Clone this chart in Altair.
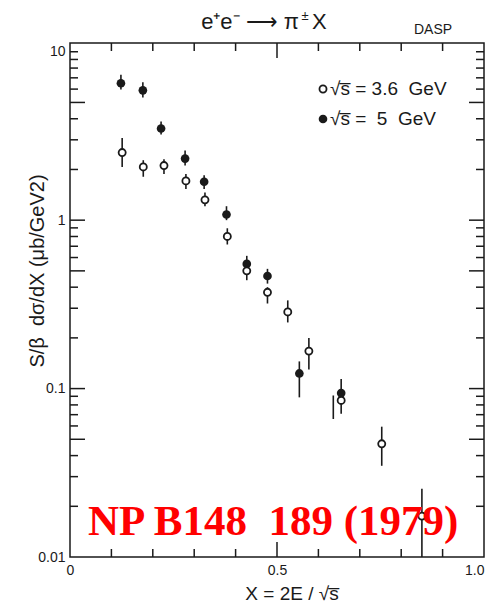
import altair as alt
import pandas as pd

# sqrt(s) = 3.6 GeV (open circles)
x36 = [0.126, 0.177, 0.227, 0.280, 0.326, 0.380, 0.427, 0.477, 0.526, 0.577, 0.655, 0.753, 0.850]
y36 = [2.52, 2.07, 2.11, 1.71, 1.32, 0.80, 0.50, 0.373, 0.285, 0.167, 0.085, 0.047, 0.0175]
lo36 = [2.07, 1.81, 1.88, 1.53, 1.21, 0.717, 0.44, 0.32, 0.247, 0.13, 0.071, 0.0348, 0.01]
hi36 = [3.08, 2.27, 2.30, 1.88, 1.46, 0.895, 0.55, 0.40, 0.334, 0.20, 0.094, 0.0594, 0.0254]

# sqrt(s) = 5 GeV (filled circles)
x5 = [0.123, 0.176, 0.220, 0.278, 0.324, 0.378, 0.427, 0.477, 0.554, 0.655]
y5 = [6.5, 5.9, 3.5, 2.32, 1.69, 1.08, 0.55, 0.466, 0.123, 0.094]
lo5 = [5.96, 5.35, 3.23, 2.11, 1.53, 1.0, 0.514, 0.42, 0.0887, 0.085]
hi5 = [7.3, 6.6, 3.85, 2.59, 1.85, 1.21, 0.614, 0.514, 0.145, 0.114]

# stray error bar (no marker visible)
xs_stray = [0.636]
lo_stray = [0.066]
hi_stray = [0.091]

# axis ticks / labels
y_label_vals = [0.01, 0.1, 1, 10]
x_label_vals = [0, 0.5, 1.0]
y_minor = [0.02, 0.03, 0.04, 0.06, 0.07, 0.08, 0.09,
           0.2, 0.3, 0.4, 0.6, 0.7, 0.8, 0.9,
           2, 3, 4, 6, 7, 8, 9, 10]
y_major = [0.05, 0.1, 0.5, 1, 5]
x_minor = [0.1, 0.2, 0.3, 0.4, 0.6, 0.7, 0.8, 0.9]
x_major = [0.5]

NB = "\u00a0"
legend_labels = ["√s̅ = 3.6" + NB + NB + "GeV", "√s̅ =" + NB + NB + "5" + NB + NB + "GeV"]
title_parts = ["e⁺e⁻ ⟶ π", "±", "X"]
experiment = "DASP"
ref_text = "NP B148" + NB + NB + "189 (1979)"
y_title = "S/β" + NB + NB + "dσ/dX (μb/GeV2)"
x_title = "X = 2E / √s̅"

W, H = 414, 514
FONT = "Liberation Sans"
INK = "#1a1a1a"

xsc = alt.Scale(domain=[0, 1], nice=False, zero=False)
ysc = alt.Scale(type="log", domain=[0.01, 11.27], nice=False)

AX = alt.Axis(
    values=x_label_vals, grid=False, ticks=False, domain=False, title=None,
    labelFont=FONT, labelFontSize=14, labelColor=INK, labelPadding=6, labelFlush=False,
    labelExpr="datum.value == 0 ? '0' : format(datum.value, '.1f')",
    labelAlign={"condition": {"test": "datum.value == 1", "value": "right"}, "value": "center"})
AY = alt.Axis(
    values=y_label_vals, grid=False, ticks=False, domain=False, title=None, format="~g",
    labelFont=FONT, labelFontSize=14, labelColor=INK, labelPadding=5)

df36 = pd.DataFrame({"x": x36, "y": y36, "lo": lo36, "hi": hi36})
df5 = pd.DataFrame({"x": x5, "y": y5, "lo": lo5, "hi": hi5})
dfs = pd.DataFrame({"x": xs_stray, "lo": lo_stray, "hi": hi_stray})

X0 = alt.X("x:Q", scale=xsc, axis=AX)

def errbar(df):
    return alt.Chart(df).mark_rule(strokeWidth=1.6, color=INK).encode(
        x=X0, y=alt.Y("lo:Q", scale=ysc, axis=AY), y2="hi:Q")

open_pts = alt.Chart(df36).mark_point(
    shape="circle", filled=True, fill="white", stroke=INK, strokeWidth=1.8, size=50, opacity=1
).encode(x=X0, y=alt.Y("y:Q", scale=ysc, axis=AY))

filled = alt.Chart(df5).mark_point(
    shape="circle", filled=True, color=INK, size=75, opacity=1
).encode(x=X0, y=alt.Y("y:Q", scale=ysc, axis=AY))

# inward ticks
def yticks(vals, length):
    d = pd.DataFrame({"v": vals})
    left = alt.Chart(d).mark_rule(strokeWidth=1.5, color=INK).encode(
        y=alt.Y("v:Q", scale=ysc, axis=AY), x=alt.value(0), x2=alt.value(length))
    right = alt.Chart(d).mark_rule(strokeWidth=1.5, color=INK).encode(
        y=alt.Y("v:Q", scale=ysc, axis=AY), x=alt.value(W), x2=alt.value(W - length))
    return [left, right]

def xticks(vals, length):
    d = pd.DataFrame({"t": vals})
    bot = alt.Chart(d).mark_rule(strokeWidth=1.5, color=INK).encode(
        x=alt.X("t:Q", scale=xsc, axis=AX), y=alt.value(H), y2=alt.value(H - length))
    top = alt.Chart(d).mark_rule(strokeWidth=1.5, color=INK).encode(
        x=alt.X("t:Q", scale=xsc, axis=AX), y=alt.value(0), y2=alt.value(length))
    return [bot, top]

ticks = yticks(y_minor, 8) + yticks(y_major, 15) + xticks(x_minor, 8) + xticks(x_major, 15)

def txt(s, x, y, size, align="left", baseline="alphabetic", font=FONT, color=INK,
        angle=0, weight="normal"):
    d = pd.DataFrame({"s": [s]})
    kw = dict(align=align, baseline=baseline, font=font, fontSize=size, color=color,
              fontWeight=weight)
    if angle:
        kw["angle"] = angle
    return alt.Chart(d).mark_text(**kw).encode(
        text="s:N", x=alt.value(x), y=alt.value(y))

texts = [
    txt(title_parts[0], 229, -14, 22, align="right"),
    txt(title_parts[1], 235, -23, 13, align="center"),
    txt(title_parts[2], 242, -14, 22, align="left"),
    txt(experiment, 363, -13, 14, align="center", baseline="middle"),
    txt(legend_labels[0], 260, 46, 19, baseline="middle"),
    txt(legend_labels[1], 260, 76, 19, baseline="middle"),
    txt(y_title, -32, 228, 20, align="center", baseline="middle", angle=270),
    txt(x_title, 222, 551, 19, align="center", baseline="middle"),
    txt(ref_text, 18, 492, 43, font="Liberation Serif", color="#ff0000", weight="bold"),
]

leg_open = alt.Chart(pd.DataFrame({"k": [0]})).mark_point(
    shape="circle", filled=True, fill="white", stroke=INK, strokeWidth=1.8, size=50, opacity=1
).encode(x=alt.value(253), y=alt.value(46))
leg_fill = alt.Chart(pd.DataFrame({"k": [0]})).mark_point(
    shape="circle", filled=True, color=INK, size=75, opacity=1
).encode(x=alt.value(253), y=alt.value(76))

chart = alt.layer(
    errbar(dfs), errbar(df5), errbar(df36), filled, open_pts, *ticks, leg_open, leg_fill, *texts
).properties(
    width=W, height=H,
    padding={"left": 70, "top": 43, "right": 8, "bottom": 52},
    autosize="none",
    background="white",
).configure_view(stroke=INK, strokeWidth=1.5)

chart.save("out.html", embed_options={"renderer": "svg", "actions": False})
